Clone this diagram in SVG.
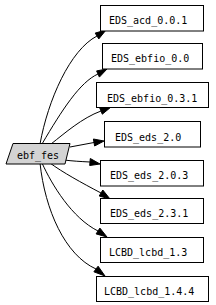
<svg xmlns="http://www.w3.org/2000/svg" width="216" height="305" viewBox="0 0 216 305">
<style>
.box{fill:#fff;stroke:#000;stroke-width:1}
.src{fill:#d3d3d3;stroke:#000;stroke-width:1}
text{font-family:"DejaVu Sans Mono","Liberation Mono",monospace;font-size:10px;fill:#000}
.e{fill:none;stroke:#000;stroke-width:1}
.ah{fill:#000;stroke:#000;stroke-width:1}
</style>
<rect width="216" height="305" fill="#fff"/>
<g id="edges">
<path class="e" d="M40,144 C48,100 70,50 97,36"/>
<polygon class="ah" points="95.2,33.1 106,30 98.8,38.9"/>
<path class="e" d="M42,144 C62,110 80,82 98,74"/>
<polygon class="ah" points="96.6,70.9 107,69 99.4,77.1"/>
<path class="e" d="M51,144 C65,133 82,118 101,111"/>
<polygon class="ah" points="99.7,107.8 111,107 102.3,114.2"/>
<path class="e" d="M70,147 C78,145.5 86,144 94,142.5"/>
<polygon class="ah" points="93.4,139 104,141 94.6,146"/>
<path class="e" d="M64,160 C72,161 80,161.5 90,162"/>
<polygon class="ah" points="90.3,158.5 100,164 89.7,165.5"/>
<path class="e" d="M50,163 C62,172 82,183 101,193"/>
<polygon class="ah" points="102.8,190 110,199 99.2,196"/>
<path class="e" d="M42,163 C52,185 72,218 98,231"/>
<polygon class="ah" points="99.9,228.1 107,237 96.1,233.9"/>
<path class="e" d="M40,163 C45,210 65,255 96,269"/>
<polygon class="ah" points="98.1,266.2 105,276 93.9,271.8"/>
</g>
<g id="ebf_fes">
<polygon class="src" points="13,143.5 70,143.5 65,164 6,164"/>
<text x="38" y="158.5" text-anchor="middle">ebf_fes</text>
</g>
<g id="EDS_acd_0.0.1">
<rect class="box" x="100.5" y="5.5" width="103" height="25.5"/>
<text x="109" y="24">EDS_acd_0.0.1</text>
</g>
<g id="EDS_ebfio_0.0">
<rect class="box" x="102.5" y="43.5" width="100" height="25.5"/>
<text x="111" y="62">EDS_ebfio_0.0</text>
</g>
<g id="EDS_ebfio_0.3.1">
<rect class="box" x="96.5" y="82.5" width="112" height="25"/>
<text x="107" y="101.5">EDS_ebfio_0.3.1</text>
</g>
<g id="EDS_eds_2.0">
<rect class="box" x="104.5" y="121.5" width="96" height="25.5"/>
<text x="115" y="141">EDS_eds_2.0</text>
</g>
<g id="EDS_eds_2.0.3">
<rect class="box" x="100.5" y="160.5" width="103" height="25.5"/>
<text x="110" y="179">EDS_eds_2.0.3</text>
</g>
<g id="EDS_eds_2.3.1">
<rect class="box" x="100.5" y="198.5" width="103" height="25"/>
<text x="110" y="217">EDS_eds_2.3.1</text>
</g>
<g id="LCBD_lcbd_1.3">
<rect class="box" x="100.5" y="237.5" width="103" height="25"/>
<text x="109" y="256">LCBD_lcbd_1.3</text>
</g>
<g id="LCBD_lcbd_1.4.4">
<rect class="box" x="96.5" y="276.5" width="112" height="25"/>
<text x="104" y="295">LCBD_lcbd_1.4.4</text>
</g>
</svg>
